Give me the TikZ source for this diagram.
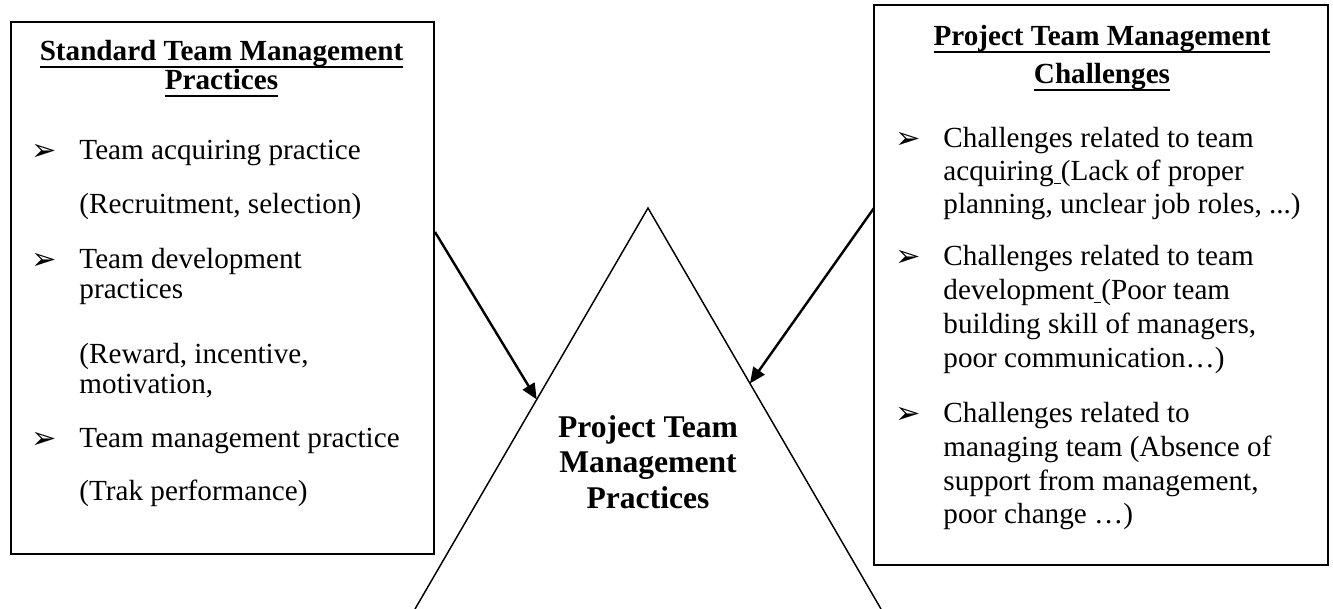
\documentclass[tikz,border=0pt]{standalone}
\usepackage{fontspec}
\setmainfont{Liberation Serif}
\newfontfamily\symfont{DejaVu Sans}
\usetikzlibrary{arrows.meta,calc}

% underline drawn at a fixed distance below the baseline
\newcommand{\headul}[1]{\leavevmode\setbox0\hbox{#1}\rlap{\rule[-3.1pt]{\wd0}{0.8pt}}\box0}
\newcommand{\gapul}{\leavevmode\setbox0\hbox{\ }\rlap{\rule[-1.6pt]{\wd0}{0.5pt}}\box0}

\begin{document}
\begin{tikzpicture}[x=0.4115pt,y=-0.4115pt,
  panel/.style={draw=black,line width=0.9pt,inner sep=0,anchor=north west},
  txt/.style={anchor=base west,inner sep=0,font=\fontsize{12}{14}\selectfont},
  head/.style={anchor=base,inner sep=0,font=\fontsize{12}{14}\selectfont\bfseries},
  core/.style={anchor=base,inner sep=0,font=\fontsize{13}{15}\selectfont\bfseries},
  bulletmark/.style={anchor=base west,inner sep=0,font=\fontsize{12.5}{14}\symfont},
  flow/.style={-{Triangle[length=6.5pt,width=5.6pt]},line width=1pt},
  leg/.style={line width=0.6pt}]

\useasboundingbox (0,0) rectangle (1333,608);

% ---------- left panel: standard practices ----------
\node[panel,minimum width=174.1pt,minimum height=218.9pt] (left) at (10,21) {};
\node[head] (lh1) at (221.5,60) {\headul{Standard Team Management}};
\node[head] (lh2) at (221.5,89) {\headul{Practices}};

\node[bulletmark] (lm1) at (31,160) {➢};
\node[txt] (l1) at (79,159) {Team acquiring practice};
\node[txt] (l2) at (79,213) {(Recruitment, selection)};
\node[bulletmark] (lm2) at (31,269) {➢};
\node[txt] (l3) at (79,268) {Team development};
\node[txt] (l4) at (79,298) {practices};
\node[txt] (l5) at (79,363) {(Reward, incentive,};
\node[txt] (l6) at (79,393) {motivation,};
\node[bulletmark] (lm3) at (31,448) {➢};
\node[txt] (l7) at (79,447) {Team management practice};
\node[txt] (l8) at (79,500) {(Trak performance)};

% ---------- right panel: challenges ----------
\node[panel,minimum width=186.8pt,minimum height=230.4pt] (right) at (873,4) {};
\node[head] (rh1) at (1102,45) {\headul{Project Team Management}};
\node[head] (rh2) at (1102,83) {\headul{Challenges}};

\node[bulletmark] (rm1) at (895,148) {➢};
\node[txt] (r1) at (943,147) {Challenges related to team};
\node[txt] (r2) at (943,180) {acquiring\gapul(Lack of proper};
\node[txt] (r3) at (943,213) {planning, unclear job roles, ...)};
\node[bulletmark] (rm2) at (895,266) {➢};
\node[txt] (r4) at (943,265) {Challenges related to team};
\node[txt] (r5) at (943,299) {development\gapul(Poor team};
\node[txt] (r6) at (943,333) {building skill of managers,};
\node[txt] (r7) at (943,367) {poor communication…)};
\node[bulletmark] (rm3) at (895,423) {➢};
\node[txt] (r8) at (943,422) {Challenges related to};
\node[txt] (r9) at (943,456) {managing team (Absence of};
\node[txt] (r10) at (943,490) {support from management,};
\node[txt] (r11) at (943,523) {poor change …)};

% ---------- central triangle ----------
\coordinate (apex) at (648,208);
\coordinate (baseL) at (415,609);
\coordinate (baseR) at (881,609);
\draw[leg] (baseL) -- (apex) -- (baseR);

\node[core] (c1) at (648,437) {Project Team};
\node[core] (c2) at (648,472) {Management};
\node[core] (c3) at (648,508) {Practices};

% ---------- connectors from the panels onto the triangle ----------
\coordinate (lfrom) at (435,232);
\coordinate (lto) at ($(apex)!0.4775!(baseL)$);
\coordinate (rfrom) at (874,208);
\coordinate (rto) at ($(apex)!0.4375!(baseR)$);
\draw[flow] (lfrom) -- (lto);
\draw[flow] (rfrom) -- (rto);
\end{tikzpicture}
\end{document}
